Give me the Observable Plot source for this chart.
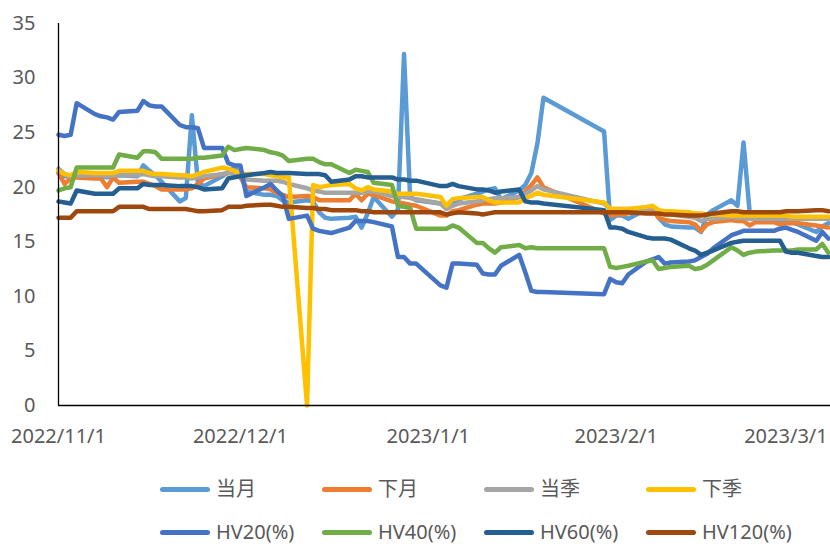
<!DOCTYPE html>
<html>
<head>
<meta charset="utf-8">
<script src="https://cdn.jsdelivr.net/npm/d3@7"></script>
<script src="https://cdn.jsdelivr.net/npm/@observablehq/plot@0.6"></script>
<style>
  html, body { margin: 0; padding: 0; background: #fff; overflow: hidden; }
  body { width: 830px; height: 546px; font-family: 'Noto Sans', 'Noto Sans CJK SC', sans-serif; }
  #legend { display: grid; grid-template-columns: repeat(4, 162px); grid-auto-rows: 22px; row-gap: 21px;
            padding-left: 160px; padding-top: 16px; }
  .item { display: flex; align-items: center; font-size: 20px; line-height: 22px; height: 22px; color: #595959; white-space: nowrap; }
  .sw { width: 50px; height: 5px; border-radius: 3px; margin-right: 6px; flex: none; }
</style>
</head>
<body>
<div id="chart"></div>
<div id="legend"></div>
<script>
// Trading days
const dates = [
  "2022-11-01","2022-11-02","2022-11-03","2022-11-04","2022-11-07","2022-11-08","2022-11-09","2022-11-10","2022-11-11",
  "2022-11-14","2022-11-15","2022-11-16","2022-11-17","2022-11-18","2022-11-21","2022-11-22","2022-11-23","2022-11-24",
  "2022-11-25","2022-11-28","2022-11-29","2022-11-30",
  "2022-12-01","2022-12-02","2022-12-05","2022-12-06","2022-12-07","2022-12-08","2022-12-09","2022-12-12","2022-12-13",
  "2022-12-14","2022-12-15","2022-12-16","2022-12-19","2022-12-20","2022-12-21","2022-12-22","2022-12-23","2022-12-26",
  "2022-12-27","2022-12-28","2022-12-29","2022-12-30",
  "2023-01-03","2023-01-04","2023-01-05","2023-01-06","2023-01-09","2023-01-10","2023-01-11","2023-01-12","2023-01-13",
  "2023-01-16","2023-01-17","2023-01-18","2023-01-19","2023-01-20","2023-01-30","2023-01-31",
  "2023-02-01","2023-02-02","2023-02-03","2023-02-06","2023-02-07","2023-02-08","2023-02-09","2023-02-10","2023-02-13",
  "2023-02-14","2023-02-15","2023-02-16","2023-02-17","2023-02-20","2023-02-21","2023-02-22","2023-02-23","2023-02-24",
  "2023-02-27","2023-02-28",
  "2023-03-01","2023-03-02","2023-03-03","2023-03-06","2023-03-07","2023-03-08"
];

const dangYue = [
  21.3,21.0,21.0,21.1,21.0,21.0,20.9,21.0,21.1,21.0,22.0,21.5,21.1,20.5,18.7,19.0,26.6,20.4,20.1,21.0,21.4,21.8,
  21.3,19.6,19.3,19.3,19.2,18.8,18.6,18.8,18.7,17.7,17.2,17.1,17.2,17.3,16.3,17.6,19.1,17.3,18.0,32.2,19.1,18.8,
  18.5,18.3,18.6,18.9,19.4,19.6,19.8,19.9,18.9,19.7,20.2,21.3,24.0,28.2,25.1,17.0,
  17.4,17.4,17.1,18.0,18.1,17.2,16.6,16.4,16.3,16.3,15.9,17.5,17.9,18.8,18.3,24.1,17.8,17.4,17.1,17.0,
  16.9,16.8,16.6,15.9,16.4,16.7
];
const xiaYue = [
  21.3,20.3,20.8,20.9,20.8,20.8,20.0,20.9,20.4,20.5,20.5,20.3,20.1,19.8,19.8,19.8,19.9,20.3,20.8,21.2,21.3,21.4,
  20.9,20.0,19.9,19.8,19.5,19.3,19.1,19.2,19.1,18.8,18.8,18.8,18.8,19.4,18.8,19.4,19.3,18.7,18.6,18.5,18.4,18.3,
  17.4,17.4,17.8,17.9,18.4,18.5,18.5,18.5,18.6,19.1,19.6,20.2,20.9,20.0,17.6,17.4,
  17.5,17.5,17.6,17.9,18.0,17.2,17.0,16.9,16.8,16.6,16.0,16.6,16.8,17.0,16.9,16.9,16.5,16.8,16.8,16.6,
  16.7,16.7,16.7,16.5,16.4,16.3
];
const dangJi = [
  21.7,21.2,21.0,21.1,21.1,21.1,21.0,21.1,21.1,21.1,21.2,21.1,21.0,21.0,20.9,20.9,20.8,20.9,21.0,21.2,21.3,21.2,
  21.0,20.7,20.6,20.6,20.6,20.5,20.3,19.9,19.7,19.6,19.5,19.5,19.5,19.5,19.5,19.6,19.6,19.2,19.1,19.1,19.0,18.9,
  18.5,18.0,18.3,18.5,18.7,18.8,18.9,19.0,19.0,19.1,19.4,19.7,20.1,19.8,18.5,18.0,
  18.0,18.0,18.0,18.0,18.1,17.8,17.6,17.5,17.3,17.2,16.9,17.1,17.1,17.3,17.2,17.2,17.1,17.1,17.1,17.1,
  17.1,17.1,17.1,17.1,17.1,17.1
];
const xiaJi = [
  21.5,21.2,21.1,21.4,21.3,21.3,21.3,21.3,21.5,21.5,21.5,21.3,21.2,21.2,21.1,21.1,21.0,21.2,21.4,21.8,21.7,21.5,
  21.3,21.2,21.2,21.1,21.0,20.9,20.9,0,20.2,20.0,20.1,20.2,20.3,19.9,19.7,20.0,19.8,19.6,19.4,19.4,19.4,19.4,
  19.1,18.3,18.9,19.0,19.1,19.1,18.8,18.6,18.6,18.6,19.0,19.2,19.5,19.3,18.6,18.0,
  18.0,18.0,18.0,18.2,18.3,17.9,17.8,17.8,17.7,17.6,17.6,17.5,17.5,17.4,17.4,17.4,17.4,17.4,17.4,17.4,
  17.4,17.3,17.3,17.3,17.3,17.3
];
const hv20 = [
  24.8,24.7,24.8,27.7,26.7,26.5,26.4,26.2,26.9,27.0,27.9,27.5,27.4,27.4,25.7,25.5,25.5,25.4,23.6,23.6,22.2,22.0,
  22.0,19.2,20.0,20.3,19.7,19.2,17.1,17.4,16.2,16.0,15.9,15.8,16.3,16.9,16.9,16.9,16.8,16.4,13.6,13.6,13.0,13.0,
  11.0,10.8,13.0,13.0,12.9,12.1,12.0,12.0,12.8,13.8,12.2,10.5,10.4,10.4,10.2,11.6,
  11.3,11.2,12.0,13.2,13.4,13.6,13.0,13.1,13.2,13.3,13.6,13.9,14.4,15.6,15.8,16.0,16.0,16.0,16.0,16.2,
  16.3,16.1,15.9,15.1,15.9,15.3
];
const hv40 = [
  19.7,19.9,20.0,21.8,21.8,21.8,21.8,21.8,23.0,22.7,23.3,23.3,23.2,22.6,22.6,22.6,22.6,22.7,22.7,22.9,23.7,23.4,
  23.5,23.6,23.4,23.2,23.1,22.9,22.4,22.6,22.6,22.3,22.1,22.1,21.3,21.6,21.5,21.4,20.4,20.2,18.3,18.2,18.1,16.2,
  16.2,16.2,16.5,16.3,14.9,14.9,14.4,14.0,14.5,14.7,14.4,14.5,14.4,14.4,14.4,12.7,
  12.6,12.7,12.8,13.2,13.3,12.5,12.6,12.7,12.8,12.5,12.6,12.9,13.3,14.5,14.2,13.8,14.0,14.1,14.2,14.2,
  14.2,14.2,14.3,14.3,14.8,14.0
];
const hv60 = [
  18.7,18.6,18.5,19.7,19.4,19.4,19.4,19.4,19.9,19.9,20.3,20.2,20.2,20.2,20.1,20.1,20.1,20.0,19.8,19.9,20.8,20.9,
  21.0,21.1,21.3,21.4,21.3,21.3,21.3,21.2,21.2,21.2,21.1,20.5,20.7,21.0,21.0,20.9,20.9,20.9,20.7,20.7,20.6,20.6,
  20.1,20.1,20.3,20.1,19.8,19.8,19.7,19.5,19.6,19.8,18.7,18.6,18.6,18.5,17.9,16.3,
  16.3,16.2,15.9,15.4,15.3,15.3,15.3,15.2,14.4,14.2,13.8,14.0,14.2,14.9,15.0,15.1,15.1,15.1,15.1,15.1,
  14.1,14.0,14.0,13.7,13.6,13.6
];
const hv120 = [
  17.2,17.2,17.2,17.8,17.8,17.8,17.8,17.8,18.2,18.2,18.2,18.0,18.0,18.0,18.0,18.0,17.9,17.8,17.8,17.9,18.2,18.2,
  18.2,18.3,18.4,18.4,18.3,18.2,18.2,18.1,18.1,18.0,18.0,17.9,17.9,17.9,17.8,17.8,17.7,17.7,17.7,17.7,17.7,17.7,
  17.7,17.5,17.6,17.7,17.6,17.5,17.6,17.7,17.7,17.7,17.7,17.7,17.7,17.7,17.7,17.7,
  17.7,17.7,17.7,17.6,17.6,17.6,17.5,17.5,17.4,17.4,17.4,17.5,17.6,17.8,17.8,17.7,17.7,17.7,17.7,17.7,
  17.8,17.8,17.8,17.9,17.9,17.8
];

const seriesNames = ["当月","下月","当季","下季","HV20(%)","HV40(%)","HV60(%)","HV120(%)"];
const seriesValues = [dangYue, xiaYue, dangJi, xiaJi, hv20, hv40, hv60, hv120];
const seriesColors = ["#5B9BD5","#ED7D31","#A5A5A5","#FFC000","#4472C4","#70AD47","#255E91","#9E480E"];

const tickDates = ["2022-11-01","2022-12-01","2023-01-01","2023-02-01","2023-03-01"];
const tickLabels = ["2022/11/1","2022/12/1","2023/1/1","2023/2/1","2023/3/1"];
const yTicks = [0,5,10,15,20,25,30,35];

const parse = s => new Date(s + "T00:00:00Z");
const dateObjs = dates.map(parse);
const xEnd = new Date(dateObjs[dateObjs.length - 1].getTime() + 0.35 * 86400000);

const tables = seriesValues.map((vals, i) =>
  vals.map((v, j) => ({date: dateObjs[j], value: v, series: seriesNames[i]})));

const labelMap = new Map(tickDates.map((d, i) => [parse(d).getTime(), tickLabels[i]]));

const chart = Plot.plot({
  width: 830,
  height: 462,
  marginLeft: 58,
  marginRight: 0,
  marginTop: 23,
  marginBottom: 57,
  style: {fontFamily: "'Noto Sans', 'Noto Sans CJK SC', sans-serif", fontSize: "20px", color: "#595959", background: "#fff"},
  x: {type: "utc", domain: [dateObjs[0], xEnd]},
  y: {domain: [0, 35]},
  marks: [
    Plot.axisY({ticks: yTicks, tickSize: 0, tickPadding: 23, label: null, fontSize: 20}),
    Plot.axisX({ticks: tickDates.map(parse), tickSize: 0, tickPadding: 23, label: null, fontSize: 20,
      tickFormat: d => labelMap.get(d.getTime())}),
    ...tables.map((t, i) => Plot.line(t, {
      x: "date", y: "value", stroke: seriesColors[i], strokeWidth: 4.5,
      strokeLinejoin: "round", strokeLinecap: "round"
    })),
    Plot.ruleY([0], {stroke: "#000", strokeWidth: 1.3}),
    Plot.ruleX([dateObjs[0]], {y1: 0, y2: 35, stroke: "#000", strokeWidth: 1.3})
  ]
});
document.getElementById("chart").appendChild(chart);

const legend = document.getElementById("legend");
seriesNames.forEach((name, i) => {
  const item = document.createElement("div");
  item.className = "item";
  const sw = document.createElement("span");
  sw.className = "sw";
  sw.style.background = seriesColors[i];
  const tx = document.createElement("span");
  tx.textContent = name;
  item.appendChild(sw);
  item.appendChild(tx);
  legend.appendChild(item);
});
</script>
</body>
</html>
